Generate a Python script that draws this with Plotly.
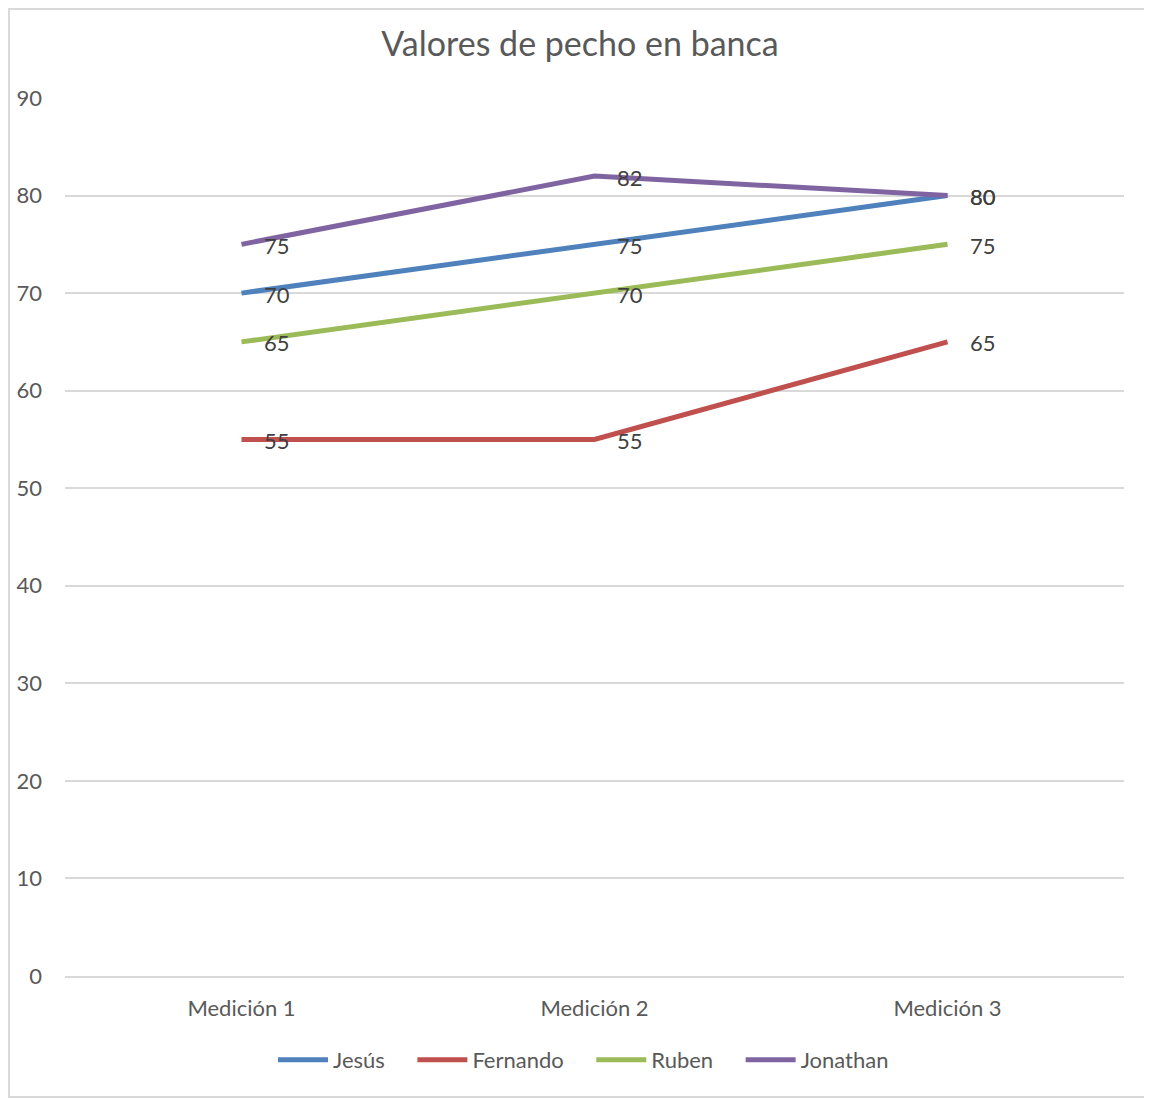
import plotly.graph_objects as go

categories = ["Medición 1", "Medición 2", "Medición 3"]
jesus = [70, 75, 80]
fernando = [55, 55, 65]
ruben = [65, 70, 75]
jonathan = [75, 82, 80]

series_names = ["Jesús", "Fernando", "Ruben", "Jonathan"]
series_values = [jesus, fernando, ruben, jonathan]
colors = ["#4F81BD", "#C0504D", "#9BBB59", "#8064A2"]

# page body has an 8px margin, so the figure is sized/offset to compensate
W, H = 1144, 1091
ml, mr, mt, mb = 57, 28, 90, 123
pw, ph = W - ml - mr, H - mt - mb

font_family = "Lato, 'Open Sans', sans-serif"

fig = go.Figure()
for name, vals, col in zip(series_names, series_values, colors):
    fig.add_trace(go.Scatter(
        x=categories, y=vals, name=name + "    ", mode="lines",
        line=dict(color=col, width=5), hoverinfo="x+y",
    ))

annotations = []
for vals in series_values:
    for c, v in zip(categories, vals):
        annotations.append(dict(
            x=c, y=v, xref="x", yref="y", text=str(v), showarrow=False,
            xanchor="left", yanchor="middle", xshift=20, yshift=-1,
            font=dict(size=22, color="#404040", family=font_family),
        ))

fig.update_layout(
    width=W, height=H,
    margin=dict(l=ml, r=mr, t=mt, b=mb, autoexpand=False),
    paper_bgcolor="white", plot_bgcolor="white",
    title=dict(text="Valores de pecho en banca", x=0.5, xanchor="center",
               y=1 - 36 / H, yanchor="middle",
               font=dict(size=34, color="#595959", family=font_family)),
    font=dict(family=font_family, color="#595959", size=22),
    showlegend=True,
    legend=dict(orientation="h", x=0.5, xanchor="center", y=-(1052 - 968) / ph,
                yanchor="middle", font=dict(size=22, color="#595959"),
                itemwidth=50, traceorder="normal"),
    annotations=annotations,
    shapes=[dict(type="rect", xref="paper", yref="paper",
                 x0=-(ml - 1) / pw, x1=1 + (mr + 20) / pw,
                 y0=-(mb - 2) / ph, y1=1 + (mt - 1) / ph,
                 line=dict(color="#D9D9D9", width=2), layer="below")],
)
fig.update_xaxes(type="category", range=[-0.5, 2.5], showgrid=False,
                 showline=True, linecolor="#D9D9D9", linewidth=1.5,
                 ticks="", ticklabelstandoff=12, automargin=False,
                 tickfont=dict(size=22, color="#595959"))
fig.update_yaxes(range=[0, 90], dtick=10, showgrid=True, gridcolor="#D9D9D9",
                 gridwidth=1.5, zeroline=False, showline=False, ticks="",
                 ticklabelstandoff=22, automargin=False,
                 tickfont=dict(size=22, color="#595959"))

fig.write_html("out.html")
